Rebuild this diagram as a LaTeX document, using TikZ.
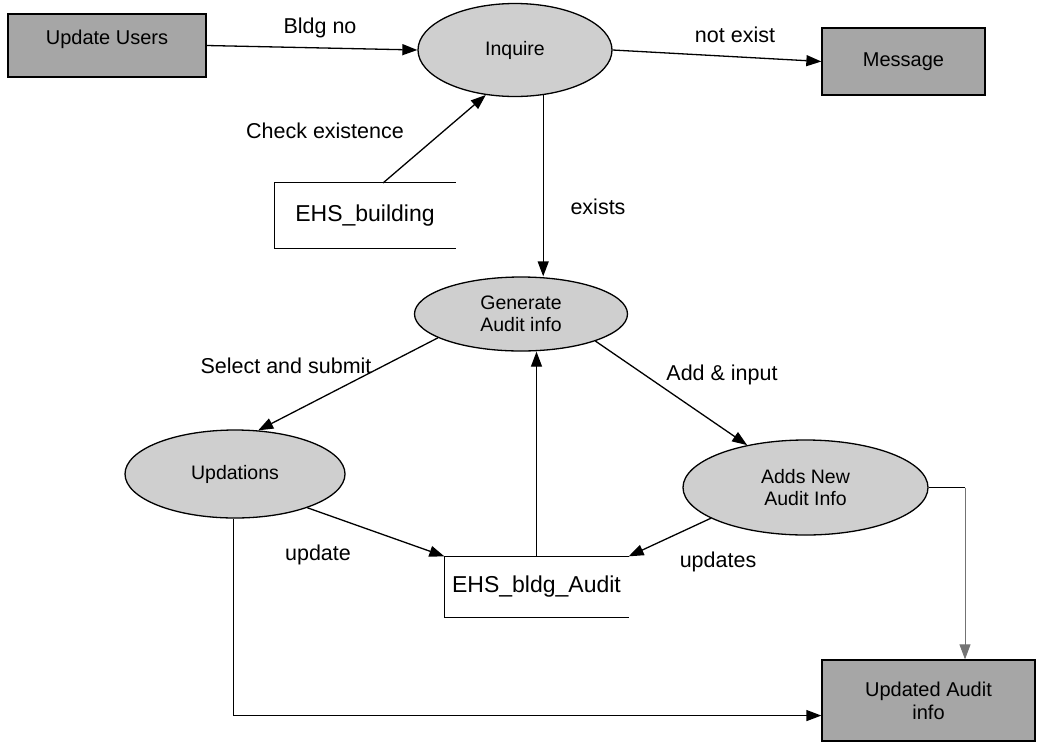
\documentclass[tikz,border=0pt]{standalone}
\usepackage{fontspec}
\setmainfont{Liberation Sans}
\usetikzlibrary{arrows.meta,shapes.geometric}
\begin{document}
\begin{tikzpicture}[x=1pt,y=-1pt,
  line width=1.3pt,
  flow/.style={-{Triangle[length=15pt,width=11pt]}},
  extbox/.style={draw, rectangle, fill=black!35, inner sep=0pt, align=center,
    font=\fontsize{20}{23}\selectfont},
  proc/.style={draw, ellipse, fill=black!19, inner sep=0pt, align=center,
    font=\fontsize{19.5}{22}\selectfont},
  storebox/.style={rectangle, inner sep=0pt, font=\fontsize{23}{26}\selectfont},
  lbl/.style={inner sep=0pt, font=\fontsize{21.5}{24}\selectfont}
]
\useasboundingbox (0,0) rectangle (1052,753);

% external entities
\node[extbox, minimum width=198pt, minimum height=63pt] (uu) at (107,45.5) {\raisebox{17pt}{Update Users}};
\node[extbox, minimum width=163pt, minimum height=67pt] (msg) at (903.5,61.5) {Message};
\node[extbox, minimum width=213pt, minimum height=81pt] (uai) at (928.5,700.5) {Updated Audit\\info};

% processes
\node[proc, minimum width=194pt, minimum height=93pt] (inq) at (515,50) {Inquire};
\node[proc, minimum width=213pt, minimum height=74pt] (gen) at (521,314) {Generate\\Audit info};
\node[proc, minimum width=220pt, minimum height=88pt] (upd) at (235,474) {Updations};
\node[proc, minimum width=245pt, minimum height=95pt] (add) at (805.5,487.5) {Adds New\\Audit Info};

% data stores (open on the right)
\node[storebox, minimum width=180pt, minimum height=65pt] (ehsb) at (365,215.5) {EHS\_building};
\draw (ehsb.north east) -- (ehsb.north west) -- (ehsb.south west) -- (ehsb.south east);
\node[storebox, minimum width=183pt, minimum height=60pt] (audit) at (536.5,587) {EHS\_bldg\_Audit};
\draw (audit.north east) -- (audit.north west) -- (audit.south west) -- (audit.south east);

% helper points
\coordinate (tap) at (383,183);
\coordinate (drop) at (965,0);

% data flows
\draw[flow] (uu.east) -- (inq.west);
\draw[flow] (inq.east) -- (msg.west);
\draw[flow] (tap) -- (inq.237);
\draw[flow] (inq.302) -- (inq.302 |- gen.north);
\draw[flow] (gen.196) -- (upd.62);
\draw[flow] (gen.-20) -- (add.144);
\draw[flow] (upd.-25) -- (audit.north west);
\draw[flow] (add.198) -- (audit.north east);
\draw[flow] (audit.north) -- (audit.north |- gen.south);
\draw[flow] (upd.268) |- (uai.188);
\draw (add.east) -- (drop |- add.east);
\draw[flow, line width=0.8pt, draw=black!55] (drop |- add.east) -- (drop |- uai.north);

% flow labels
\node[lbl] (l1) at (320,28) {Bldg no};
\node[lbl] (l2) at (735,35) {not exist};
\node[lbl] (l3) at (325,131) {Check existence};
\node[lbl] (l4) at (598,207) {exists};
\node[lbl] (l5) at (286,366) {Select and submit};
\node[lbl] (l6) at (722,375) {Add \& input};
\node[lbl] (l7) at (318,555) {update};
\node[lbl] (l8) at (718,562) {updates};
\end{tikzpicture}
\end{document}
